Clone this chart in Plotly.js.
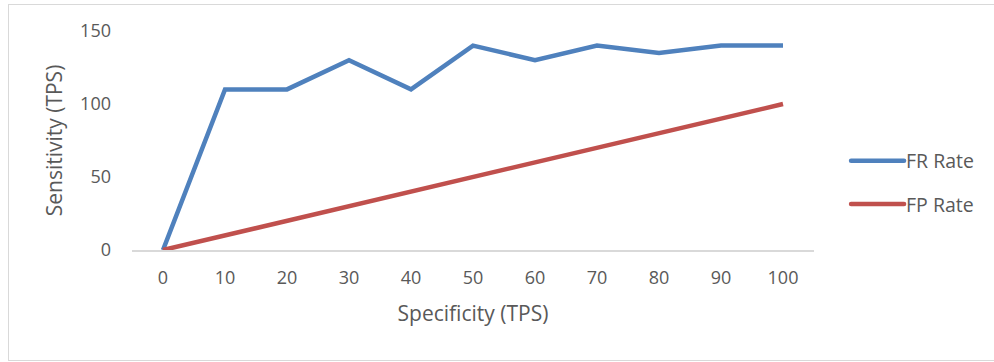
<!DOCTYPE html>
<html>
<head>
<meta charset="utf-8">
<script src="https://cdn.plot.ly/plotly-3.0.1.min.js"></script>
<style>
html,body{margin:0;padding:0;background:#fff;overflow:hidden;}
#frame{position:absolute;left:8px;top:4px;width:1000px;height:357px;border:1px solid #d9d9d9;box-sizing:border-box;pointer-events:none;}
#chart{position:absolute;left:0;top:0;width:994px;height:362px;}
</style>
</head>
<body>
<div id="chart"></div>
<div id="frame"></div>
<script>
const specificity = ['0','10','20','30','40','50','60','70','80','90','100'];
const frRate = [0,110,110,130,110,140,130,140,135,140,140];
const fpRate = [0,10,20,30,40,50,60,70,80,90,100];

const fam = '"Open Sans", Lato, sans-serif';
const tickFont = {family:fam, size:18, color:'#595959'};
const titleFont = {family:fam, size:21, color:'#595959'};
const legendFont = {family:fam, size:19.5, color:'#595959'};

const traces = [
  {x:specificity, y:frRate, name:'FR Rate', type:'scatter', mode:'lines',
   line:{color:'#4F81BD', width:4.5}, legendgroup:'a'},
  {x:specificity, y:fpRate, name:'FP Rate', type:'scatter', mode:'lines',
   line:{color:'#C0504D', width:4.5}, legendgroup:'b'}
];

const layout = {
  width:994, height:362,
  margin:{l:132, r:180, t:31, b:112, pad:0},
  paper_bgcolor:'#fff', plot_bgcolor:'#fff',
  font:tickFont,
  showlegend:true,
  legend:{x:1.047, xanchor:'left', y:0.308, yanchor:'middle', font:legendFont,
          tracegroupgap:15, itemwidth:50, bgcolor:'rgba(0,0,0,0)'},
  xaxis:{type:'category', range:[-0.5,10.5], showgrid:false, zeroline:false,
         showline:true, linecolor:'#d9d9d9', linewidth:1.5, ticks:'',
         ticklabelstandoff:11, tickfont:tickFont,
         title:{text:'Specificity (TPS)', font:titleFont, standoff:18}},
  yaxis:{range:[0,150], tickvals:[0,50,100,150], showgrid:false, zeroline:false,
         showline:false, ticks:'', ticklabelstandoff:20, tickfont:tickFont,
         title:{text:'Sensitivity (TPS)', font:titleFont, standoff:11}}
};

Plotly.newPlot('chart', traces, layout, {displayModeBar:false, staticPlot:true}).then(function(gd){
  gd.querySelectorAll('.legend .legendlines path').forEach(function(p){
    p.setAttribute('d','M5,0h53');
    p.style.strokeLinecap = 'round';
  });
});
</script>
</body>
</html>
